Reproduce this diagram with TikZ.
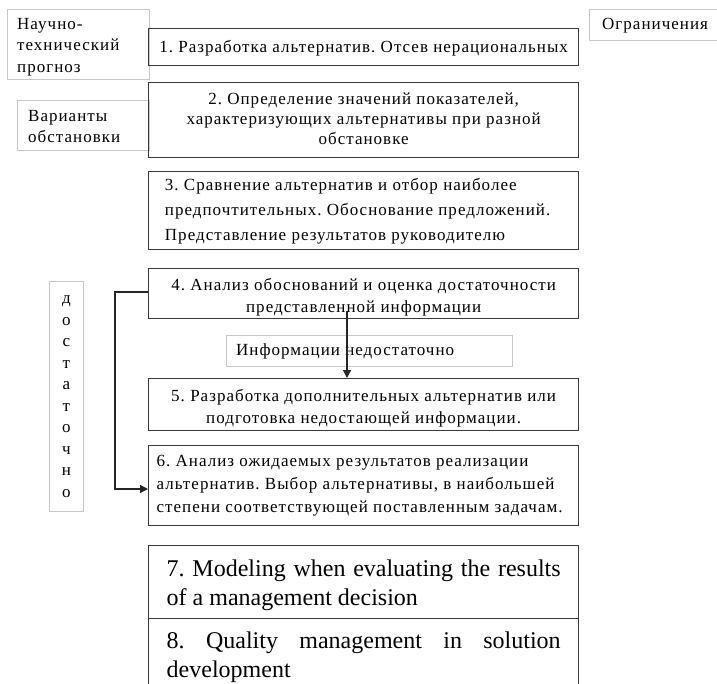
\documentclass[tikz,border=0pt]{standalone}
\usepackage{fontspec}
\setmainfont{Liberation Serif}
\newfontfamily\rufont[LetterSpace=6]{Liberation Serif}
\usetikzlibrary{arrows.meta,calc}
\definecolor{boxline}{HTML}{3A3A3A}
\definecolor{sideline}{HTML}{C8C8C8}
\frenchspacing
\begin{document}
\begin{tikzpicture}[x=1pt,y=-1pt,
  mainbox/.style={draw=boxline, line width=1.3pt, rectangle, inner sep=0pt, anchor=north west,
    minimum width=430pt},
  boxtext/.style={inner sep=0pt, text=black, font=\rufont\fontsize{17}{#1}\selectfont},
  engbox/.style={draw=boxline, line width=1.4pt, rectangle, inner sep=0pt, anchor=north west,
    minimum width=430pt},
  engtext/.style={inner sep=0pt, text width=394pt, align=justify, font=\frenchspacing\fontsize{24}{29}\selectfont},
  sidebox/.style={draw=sideline, line width=0.9pt, rectangle, inner sep=0pt, anchor=north west},
  sidetext/.style={inner sep=0pt, anchor=north west, align=left, font=\rufont\fontsize{17}{21.5}\selectfont},
  conn/.style={draw=black!85, line width=1.2pt},
  tip/.style={-{Triangle[length=8pt,width=8pt]}}
]
\useasboundingbox (0,0) rectangle (717,683);
% side boxes
\node[sidebox, minimum width=142pt, minimum height=70pt] (ntbox) at (7,9) {};
\node[sidetext] (nttext) at (17,18) {Научно-\\технический\\прогноз};
\node[sidebox, minimum width=132pt, minimum height=50pt] (varbox) at (17,100) {};
\node[sidetext] (vartext) at (28,110) {Варианты\\обстановки};
\node[sidebox, minimum width=140pt, minimum height=31pt] (ogrbox) at (589,9) {};
\node[sidetext] (ogrtext) at (602,18) {Ограничения};
\node[sidebox, minimum width=34pt, minimum height=230pt] (dostbox) at (49,281) {};
\node[inner sep=0pt, align=center, font=\rufont\fontsize{17}{21.5}\selectfont] (dosttext) at (dostbox.center) {д\\о\\с\\т\\а\\т\\о\\ч\\н\\о};
% main boxes
\node[mainbox, minimum height=37pt] (b1) at (148,28) {};
\node[boxtext=21, align=center] (b1t) at ($(b1.center)+(0,1)$) {1. Разработка альтернатив. Отсев нерациональных};
\node[mainbox, minimum height=75pt] (b2) at (148,82) {};
\node[boxtext=20, align=center] (b2t) at ($(b2.center)+(0,-1)$) {2. Определение значений показателей,\\характеризующих альтернативы при разной\\обстановке};
\node[mainbox, minimum height=78pt] (b3) at (148,171) {};
\node[boxtext=25, align=left] (b3t) at ($(b3.center)+(-6,1)$) {3. Сравнение альтернатив и отбор наиболее\\предпочтительных. Обоснование предложений.\\Представление результатов руководителю};
\node[mainbox, minimum height=50pt] (b4) at (148,268) {};
\node[boxtext=22, align=center] (b4t) at ($(b4.center)+(0,4)$) {4. Анализ обоснований и оценка достаточности\\представленной информации};
\node[sidebox, minimum width=286pt, minimum height=31pt] (infobox) at (226,335) {};
\node[sidetext] (infotext) at (236,343) {Информации недостаточно};
\node[mainbox, minimum height=52pt] (b5) at (148,378) {};
\node[boxtext=22, align=center] (b5t) at ($(b5.center)+(0,4)$) {5. Разработка дополнительных альтернатив или\\подготовка недостающей информации.};
\node[mainbox, minimum height=80pt] (b6) at (148,445) {};
\node[boxtext=23, align=left] (b6t) at ($(b6.center)+(-4,0)$) {6. Анализ ожидаемых результатов реализации\\альтернатив. Выбор альтернативы, в наибольшей\\степени соответствующей поставленным задачам.};
\node[engbox, minimum height=73pt] (b7) at (148,545) {};
\node[engtext] (b7t) at ($(b7.center)+(0,3)$) {7. Modeling when evaluating the results of a management decision};
\node[engbox, minimum height=77pt] (b8) at (148,618) {};
\node[engtext] (b8t) at ($(b8.center)+(0,0)$) {8. Quality management in solution\linebreak[4] development};
% connectors
\coordinate (s4) at ($(b4.south west)+(199,-8)$);
\draw[conn, tip] (s4) -- (s4 |- b5.north);
\draw[conn, tip] ($(b4.north west)+(0,24)$) -- ++(-33,0) |- ($(b6.north west)+(0,44)$);
\end{tikzpicture}
\end{document}
